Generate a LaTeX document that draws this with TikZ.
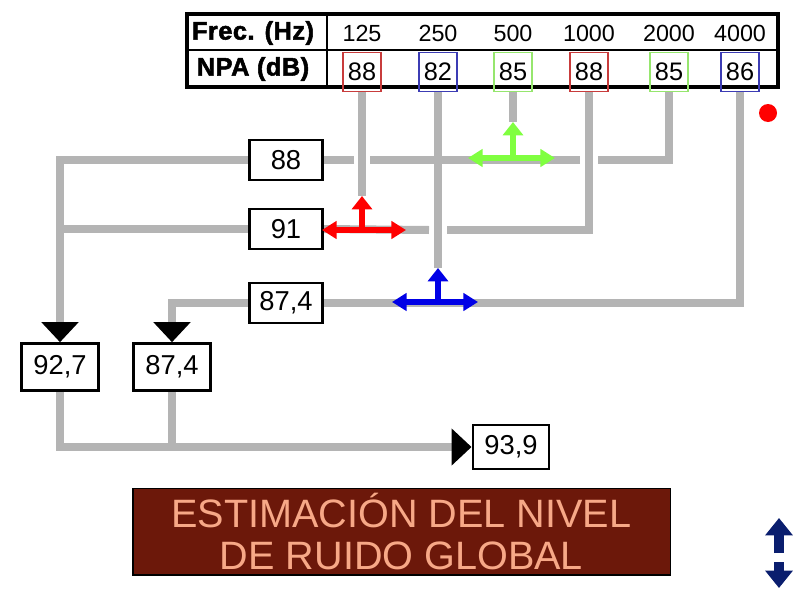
\documentclass[tikz,border=0pt]{standalone}
\usepackage{fontspec}
\setmainfont{Liberation Sans}
\newfontfamily\heavyfont{Liberation Sans Bold}[FakeBold=2,LetterSpace=2]
\usetikzlibrary{arrows.meta}
\definecolor{lgray}{RGB}{180,180,180}
\definecolor{tred}{RGB}{255,0,0}
\definecolor{tblue}{RGB}{0,0,230}
\definecolor{tgreen}{RGB}{128,255,64}
\definecolor{bred}{RGB}{200,60,60}
\definecolor{bblue}{RGB}{60,60,180}
\definecolor{bgreen}{RGB}{150,230,110}
\definecolor{titlebrown}{RGB}{108,24,10}
\definecolor{salmon}{RGB}{247,168,135}
\definecolor{navy}{RGB}{10,30,110}
\begin{document}
\begin{tikzpicture}[x=0.75pt,y=-0.75pt,
  gline/.style={draw=lgray,line width=6pt},
  blk/.style={-{Triangle[width=27pt,length=15pt,color=black]}},
  vbox/.style={draw=black,line width=2.2pt,fill=white,minimum width=55pt,minimum height=30pt,inner sep=0pt,font=\fontsize{20.5}{22}\selectfont},
  tall/.style={minimum width=58pt,minimum height=35pt},
  hdr/.style={font=\fontsize{19}{21}\heavyfont},
  freq/.style={font=\fontsize{17.5}{19}\selectfont},
  valbox/.style={draw=#1,line width=0.9pt,minimum width=28.5pt,minimum height=29pt,inner sep=0pt,font=\fontsize{19}{20}\selectfont},
  tarrow/.style={draw=#1,line width=5pt,{Triangle[width=13pt,length=11pt]}-{Triangle[width=13pt,length=11pt]}},
  uparrow/.style={draw=#1,line width=5pt,-{Triangle[width=15pt,length=10pt]}},
  navyarrow/.style={draw=navy,line width=8pt,-{Triangle[width=20pt,length=13pt]}}
]
\useasboundingbox (0,0) rectangle (800,600);

% table
\draw[line width=2.4pt] (187,14) rectangle (778,87);
\draw[line width=1pt] (187,50) -- (778,50);
\draw[line width=1pt] (327,14) -- (327,87);
\node[hdr] (h1) at (253,33) {Frec. (Hz)};
\node[hdr] (h2) at (253,69) {NPA (dB)};
\node[freq] (f1) at (362,33) {125};
\node[freq] (f2) at (438,33) {250};
\node[freq] (f3) at (513,33) {500};
\node[freq] (f4) at (589,33) {1000};
\node[freq] (f5) at (669,33) {2000};
\node[freq] (f6) at (740,33) {4000};
\node[valbox=bred]   (v1) at (362,72) {88};
\node[valbox=bblue]  (v2) at (438,72) {82};
\node[valbox=bgreen] (v3) at (513,72) {85};
\node[valbox=bred]   (v4) at (589,72) {88};
\node[valbox=bgreen] (v5) at (669,72) {85};
\node[valbox=bblue]  (v6) at (740,72) {86};

% result boxes
\node[vbox] (b88) at (286,160) {88};
\node[vbox] (b91) at (286,229) {91};
\node[vbox] (b874) at (286,303) {87,4};
\node[vbox,tall] (b927) at (60,367) {92,7};
\node[vbox,tall] (b874b) at (172,367) {87,4};
\node[vbox,minimum width=57pt,minimum height=33pt] (b939) at (511,447) {93,9};

% coordinates
\coordinate (rc) at (362,230);
\coordinate (rl) at (322,230);
\coordinate (rr) at (406,230);
\coordinate (rt) at (362,196);
\coordinate (bc) at (438,302);
\coordinate (bl) at (392,302);
\coordinate (br) at (478,302);
\coordinate (bt) at (438,268);
\coordinate (gc) at (513,158);
\coordinate (gl) at (468,158);
\coordinate (gr) at (555,158);
\coordinate (gt) at (513,122);
\coordinate (p1) at (598,160);
\coordinate (p2) at (580,160);
\coordinate (p3) at (370,160);
\coordinate (p4) at (354,160);
\coordinate (q1) at (447,230);
\coordinate (q2) at (429,230);

% gray lines from the table
\draw[gline] (v1.south) -- (rt);
\draw[gline] (v2.south) -- (bt);
\draw[gline] (v3.south) -- (gt);
\draw[gline] (v5.south) |- (p1);
\draw[gline] (p2) -- (p3);
\draw[gline] (p4) -- (b88.east);
\draw[gline] (v4.south) |- (q1);
\draw[gline] (q2) -- (b91.east);
\draw[gline] (v6.south) |- (b874.east);

% gray lines to the left
\draw[gline,blk] (b88.west) -| (b927.north);
\draw[gline] (b91.west) -- (b91.west -| b927.north);
\draw[gline,blk] (b874.west) -| (b874b.north);
\draw[gline,blk] (b927.south) |- (b939.west);
\draw[gline] (b874b.south) -- (b874b.south |- b939.west);

% colored T arrows
\draw[tarrow=tred] (rl) -- (rr);
\draw[uparrow=tred] (rc) -- (rt);
\draw[tarrow=tblue] (bl) -- (br);
\draw[uparrow=tblue] (bc) -- (bt);
\draw[tarrow=tgreen] (gl) -- (gr);
\draw[uparrow=tgreen] (gc) -- (gt);

% title
\node[fill=titlebrown,draw=black,line width=1pt,minimum width=403pt,minimum height=65pt,
  text=salmon,align=center,font=\fontsize{29.7}{31}\selectfont] (title) at (401.5,531.5)
  {ESTIMACIÓN DEL NIVEL\\DE RUIDO GLOBAL};

% red dot
\fill[red] (768,113) circle (6.75pt);

% navy double arrow
\coordinate (n1) at (779,553);
\coordinate (n2) at (779,518);
\coordinate (n3) at (779,562);
\coordinate (n4) at (779,588);
\draw[navyarrow] (n1) -- (n2);
\draw[navyarrow] (n3) -- (n4);
\end{tikzpicture}
\end{document}
